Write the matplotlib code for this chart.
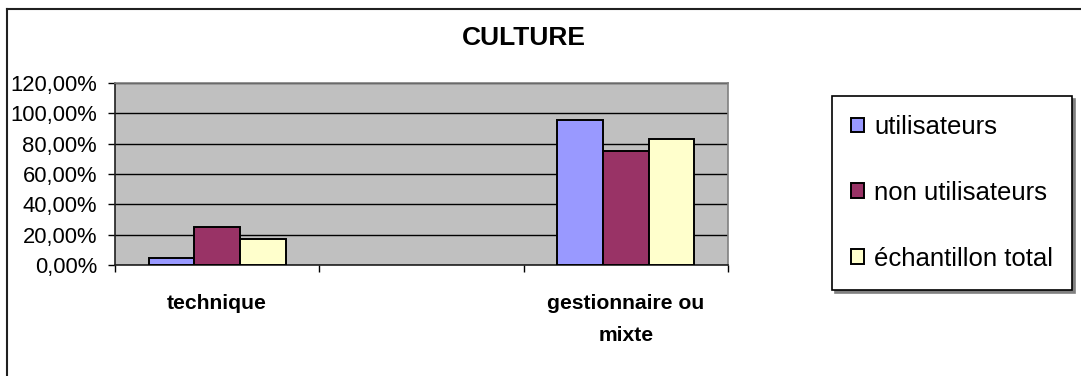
import matplotlib
matplotlib.use('Agg')
import matplotlib.pyplot as plt
import numpy as np
from matplotlib.lines import Line2D

plt.rcParams['font.family'] = ['Liberation Sans', 'DejaVu Sans']

# données
categories = ['technique', '', 'gestionnaire ou\nmixte']
series = ['utilisateurs', 'non utilisateurs', 'échantillon total']
utilisateurs = [0.043, np.nan, 0.957]
non_utilisateurs = [0.25, np.nan, 0.75]
echantillon_total = [0.17, np.nan, 0.83]
y_ticks = [0.0, 0.2, 0.4, 0.6, 0.8, 1.0, 1.2]
y_labels = ['0,00%', '20,00%', '40,00%', '60,00%', '80,00%', '100,00%', '120,00%']

colors = ['#9999FF', '#993366', '#FFFFCC']

W, H = 1081, 376
fig = plt.figure(figsize=(W / 100, H / 100), dpi=100)
ax = fig.add_axes([115 / W, 1 - 265 / H, (728 - 115) / W, (265 - 83) / H])
ax.set_facecolor('#C0C0C0')

x = np.arange(len(categories))
bw = 0.223
handles = []
for i, (vals, c, lab) in enumerate(zip([utilisateurs, non_utilisateurs, echantillon_total],
                                       colors, series)):
    b = ax.bar(x + (i - 1) * bw, vals, bw, color=c, edgecolor='black',
               linewidth=1.4, label=lab, zorder=3)
    handles.append(b)

ax.set_xlim(-0.5, 2.5)
ax.set_ylim(0, 1.2)
ax.set_yticks(y_ticks)
ax.set_yticklabels(y_labels, fontsize=15.8)
ax.yaxis.grid(True, color='black', linewidth=1, zorder=1)
ax.set_axisbelow(True)

ax.set_xticks(x)
ax.set_xticklabels(categories, fontsize=15.2, fontweight='bold', linespacing=1.85)
ax.tick_params(axis='x', which='major', length=0, pad=21)
ax.set_xticks(np.arange(-0.5, 3, 1), minor=True)
ax.tick_params(axis='x', which='minor', length=5, width=1, direction='out')
ax.tick_params(axis='y', length=5, width=1, pad=8)

for s in ['top', 'right']:
    ax.spines[s].set_color('#808080')
    ax.spines[s].set_linewidth(1.2)
for s in ['left', 'bottom']:
    ax.spines[s].set_color('#202020')
    ax.spines[s].set_linewidth(1.2)

leg = fig.legend(handles=handles, loc='upper left',
                 bbox_to_anchor=(832 / W, 1 - 96 / H, (1072 - 832) / W, 0),
                 mode='expand', fontsize=18.5,
                 frameon=True, fancybox=False, edgecolor='black',
                 handlelength=0.5, handleheight=0.5, handletextpad=0.4,
                 labelspacing=1.63, borderpad=0.74, borderaxespad=0,
                 shadow={'color': '#808080', 'alpha': 1})
leg.get_frame().set_linewidth(1.2)

fig.text(524 / W, 1 - 38 / H, 'CULTURE', ha='center', va='center',
         fontsize=19, fontweight='bold')

# cadre extérieur (haut et gauche)
fig.add_artist(Line2D([7 / W, 1], [1 - 9 / H, 1 - 9 / H], color='#202020', linewidth=1.5))
fig.add_artist(Line2D([7 / W, 7 / W], [0, 1 - 9 / H], color='#202020', linewidth=1.5))

fig.savefig('out.png', dpi=100)
plt.close()
